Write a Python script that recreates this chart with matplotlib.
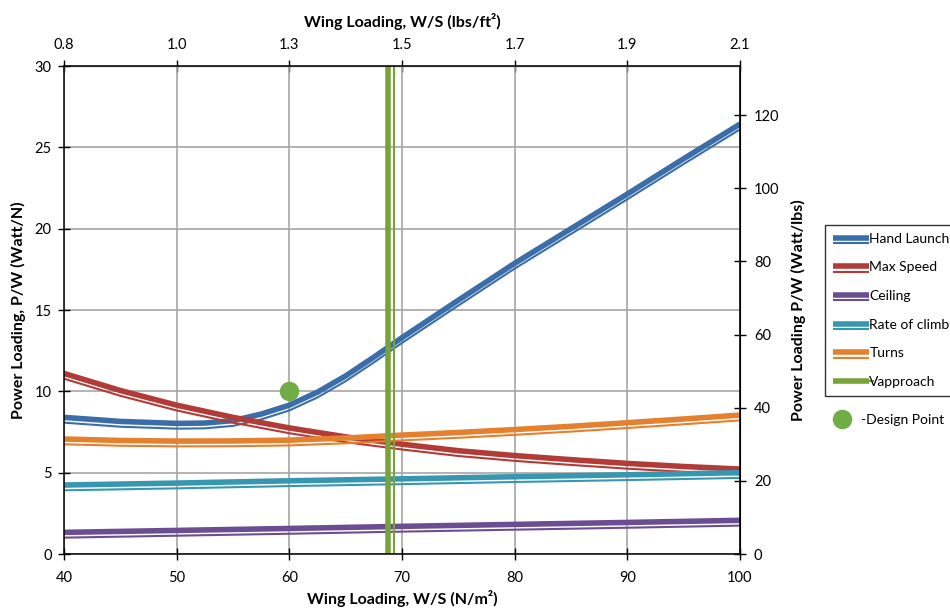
import matplotlib.pyplot as plt
import matplotlib.patheffects as pe
from matplotlib.lines import Line2D

plt.rcParams['font.family'] = ['Lato', 'DejaVu Sans']

# wing loading W/S (N/m^2) and power loading P/W (Watt/N)
ws_hl = [40, 45, 50, 52.5, 55, 57.5, 60, 62.5, 65, 67.5, 70, 75, 80, 85, 90, 95, 100]
hand_launch = [8.40, 8.15, 8.03, 8.05, 8.2, 8.6, 9.15, 9.95, 10.95, 12.1, 13.3, 15.6,
               17.87, 20.0, 22.13, 24.3, 26.43]

ws = [40, 45, 50, 55, 60, 65, 70, 75, 80, 85, 90, 95, 100]
max_speed = [11.1, 10.05, 9.15, 8.4, 7.75, 7.2, 6.75, 6.35, 6.05, 5.8, 5.57, 5.38, 5.22]
turns = [7.07, 6.98, 6.94, 6.95, 7.0, 7.13, 7.31, 7.47, 7.65, 7.85, 8.07, 8.3, 8.54]

ws_lin = [40, 50, 60, 70, 80, 90, 100]
rate_of_climb = [4.24, 4.36, 4.5, 4.62, 4.75, 4.87, 5.0]
ceiling = [1.33, 1.45, 1.57, 1.7, 1.82, 1.94, 2.07]

vapproach_ws = 68.8
design_ws = 60
design_pw = 10

N_PER_LB = 4.448
LBFT2_PER_NM2 = 0.020885

ws_ticks = [40, 50, 60, 70, 80, 90, 100]
pw_ticks = [0, 5, 10, 15, 20, 25, 30]
pw_lb_ticks = [0, 20, 40, 60, 80, 100, 120]

colors = {
    'Hand Launch': '#3b6ea8',
    'Max Speed': '#b23b38',
    'Ceiling': '#6b4e91',
    'Rate of climb': '#3797b1',
    'Turns': '#e5802e',
    'Vapproach': '#78a23a',
}

fig = plt.figure(figsize=(9.5, 6.11), dpi=100)
ax = fig.add_axes([64 / 950, 57 / 611, 676 / 950, 488 / 611])


def double_line(x, y, label, off=(0, -3.8)):
    # thick line with a thin twin underneath, like Excel's compound line
    c = colors[label]
    ln, = ax.plot(x, y, color=c, lw=4.0, label=label, solid_capstyle='butt',
                  solid_joinstyle='round')
    ln.set_path_effects([pe.Stroke(offset=off, linewidth=1.5, foreground=c), pe.Normal()])
    return ln


double_line(ws_hl, hand_launch, 'Hand Launch')
double_line(ws, max_speed, 'Max Speed')
double_line(ws_lin, ceiling, 'Ceiling')
double_line(ws_lin, rate_of_climb, 'Rate of climb')
double_line(ws, turns, 'Turns')
double_line([vapproach_ws, vapproach_ws], [0, 30], 'Vapproach', off=(3.8, 0))

ax.plot([design_ws], [design_pw], 'o', color='#70ad47', markersize=13, zorder=5)

ax.set_xlim(40, 100)
ax.set_ylim(0, 30)
ax.set_xticks(ws_ticks)
ax.set_yticks(pw_ticks)
ax.grid(color='#a5a5a5', lw=1.2)
ax.set_axisbelow(True)
for s in ax.spines.values():
    s.set_color('black')
    s.set_linewidth(1.1)
ax.tick_params(direction='inout', length=8, width=1, labelsize=10.5)
ax.tick_params(axis='x', pad=8)
ax.tick_params(axis='y', pad=5)

ax.set_xlabel('Wing Loading, W/S (N/m²)', fontsize=11.5, fontweight='bold', labelpad=4)
ax.set_ylabel('Power Loading, P/W (Watt/N)', fontsize=11.5, fontweight='bold', labelpad=6)

top = ax.secondary_xaxis('top', functions=(lambda v: v, lambda v: v))
top.set_ticks(ws_ticks, labels=['%.1f' % (v * LBFT2_PER_NM2) for v in ws_ticks])
top.tick_params(direction='inout', length=8, width=1, labelsize=10.5, pad=6)
top.set_xlabel('Wing Loading, W/S (lbs/ft²)', fontsize=11.5, fontweight='bold', labelpad=8)

right = ax.secondary_yaxis('right', functions=(lambda v: v * N_PER_LB, lambda v: v / N_PER_LB))
right.set_ticks(pw_lb_ticks)
right.tick_params(direction='inout', length=8, width=1, labelsize=10.5, pad=6)
right.set_ylabel('Power Loading P/W (Watt/lbs)', fontsize=11.5, fontweight='bold', labelpad=8)

leg = fig.legend(loc='upper left', bbox_to_anchor=(825 / 950, 1 - 225 / 611),
                 fontsize=10, frameon=True, fancybox=False, edgecolor='black',
                 handlelength=2.6, handletextpad=0.05, labelspacing=1.2,
                 borderpad=0.55, borderaxespad=0)
leg.get_frame().set_linewidth(1.0)

dp = Line2D([], [], marker='o', ls='none', color='#70ad47', markersize=13)
fig.legend(handles=[dp], labels=['-Design Point'], loc='center left',
           bbox_to_anchor=(826 / 950, 1 - 420 / 611), fontsize=10, frameon=False,
           handlelength=2.3, handletextpad=0.2, borderpad=0, borderaxespad=0)

fig.savefig('out.png', dpi=100)
